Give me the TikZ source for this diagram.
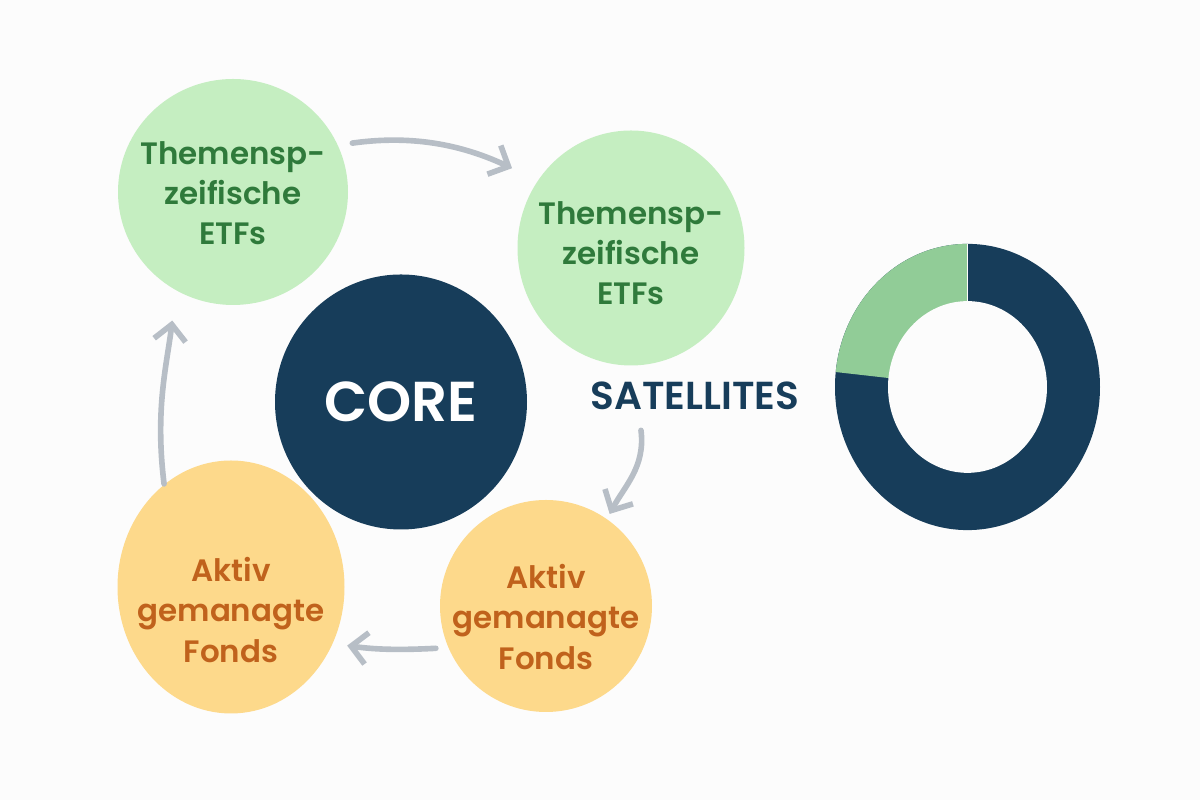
\documentclass[tikz,border=0pt]{standalone}
\usepackage{fontspec}
\setmainfont{Poppins}[BoldFont={Poppins SemiBold}]
\usetikzlibrary{shapes.geometric,arrows.meta,calc}
\definecolor{bg}{HTML}{FCFCFC}
\definecolor{lgreen}{HTML}{C5EEC1}
\definecolor{tgreen}{HTML}{2F7A3B}
\definecolor{lyellow}{HTML}{FDD98B}
\definecolor{torange}{HTML}{C0621C}
\definecolor{navy}{HTML}{173D5A}
\definecolor{dgreen}{HTML}{91CC97}
\definecolor{agray}{HTML}{B7BEC6}
\tikzset{
  blob/.style={ellipse, inner sep=0pt, draw=none},
  gtext/.style={align=center, text=tgreen, font=\bfseries\fontsize{8.8}{11.4}\selectfont},
  ytext/.style={align=center, text=torange, font=\bfseries\fontsize{8.8}{11.4}\selectfont},
  conn/.style={agray, line width=1.6pt, line cap=round, line join=round,
    -{Straight Barb[length=4.5pt,width=9pt,line width=1.6pt]}},
}
\begin{document}
\begin{tikzpicture}
\fill[bg] (0,0) rectangle (12,8);
\useasboundingbox (0,0) rectangle (12,8);
% circles
\node[blob, fill=lgreen, minimum width=2.30cm, minimum height=2.26cm] (tl) at (2.33,6.08) {};
\node[blob, fill=lgreen, minimum width=2.27cm, minimum height=2.35cm] (tr) at (6.31,5.52) {};
\node[blob, fill=navy, minimum width=2.52cm, minimum height=2.55cm] (core) at (4.01,3.98) {};
\node[blob, fill=lyellow, minimum width=2.27cm, minimum height=2.53cm] (bl) at (2.31,2.13) {};
\node[blob, fill=lyellow, minimum width=2.12cm, minimum height=2.12cm] (br) at (5.46,1.94) {};
% texts
\node[gtext] (tlt) at (2.33,6.07) {Themensp-\\zeifische\\ETFs};
\node[gtext] (trt) at (6.31,5.47) {Themensp-\\zeifische\\ETFs};
\node[ytext] (blt) at (2.31,1.90) {Aktiv\\gemanagte\\Fonds};
\node[ytext] (brt) at (5.46,1.83) {Aktiv\\gemanagte\\Fonds};
\node[text=white, font=\bfseries\fontsize{16}{19}\selectfont] (coret) at (4.01,3.98) {CORE};
\node[text=navy, font=\bfseries\fontsize{11.1}{13}\selectfont] (sat) at (6.95,4.04) {SATELLITES};
% connectors
\draw[conn, shorten <=4pt, shorten >=8pt] (tl.24) to[out=8, in=155] (tr.144);
\draw[conn, shorten >=1.5pt] ($(sat.south)+(-0.54,-0.08)$) to[out=-83, in=62] (br.55);
\draw[conn, shorten <=3.4pt, shorten >=4pt] (br.203) to[out=183, in=-8] (bl.-29);
\draw[conn, shorten >=8.5pt] (bl.123) to[out=97, in=-97] (tl.240);
% donut
\coordinate (dc) at (9.675,4.13);
\begin{scope}[shift={(dc)}, yscale=1.08]
\fill[navy] (0,0) circle (1.325);
\fill[dgreen] (0,0) -- (90:1.325) arc (90:174:1.325) -- cycle;
\draw[bg, line width=0.3pt] (0,0) -- (90:1.325);
\fill[bg] (0,0) circle (0.795);
\end{scope}
\end{tikzpicture}
\end{document}
